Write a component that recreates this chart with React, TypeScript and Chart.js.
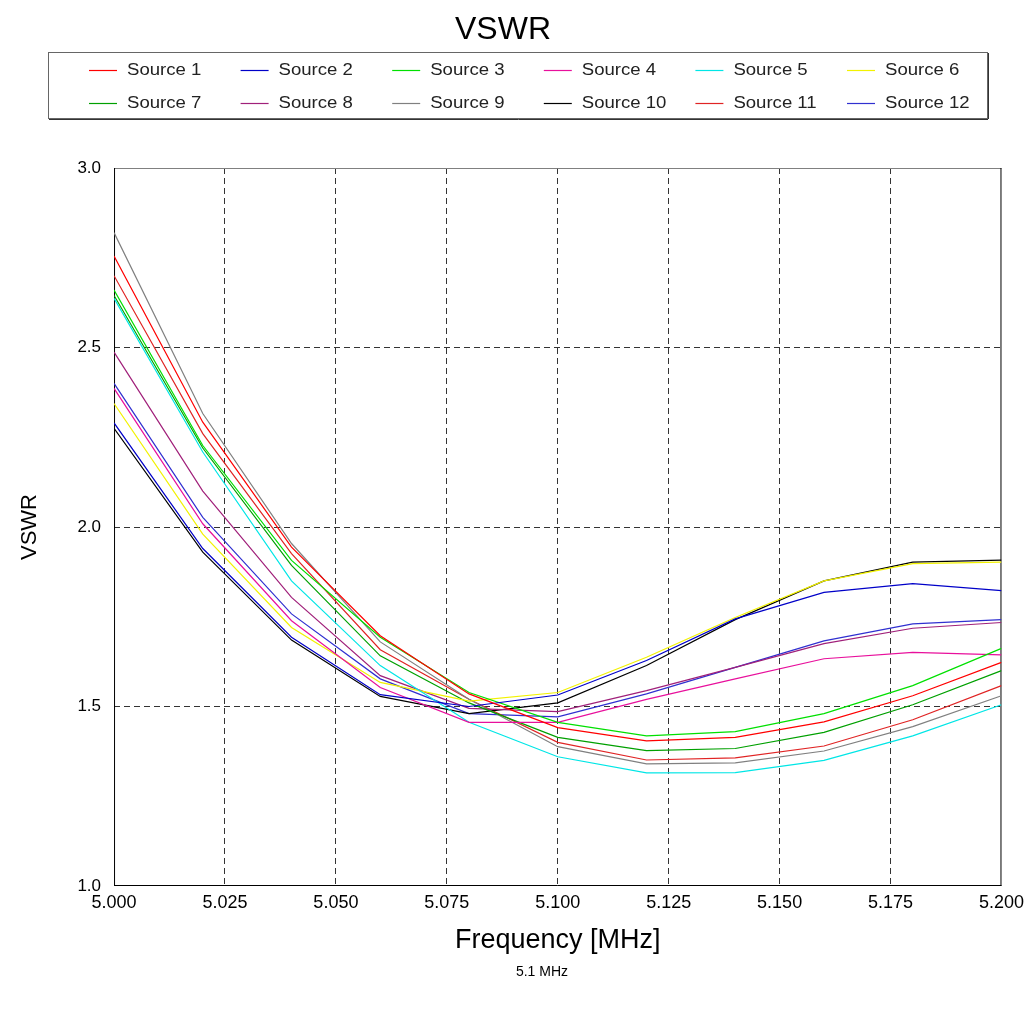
import React, { useEffect, useRef } from "react";
import { Chart, registerables } from "chart.js";

Chart.register(...registerables);

// ---- data ----
const frequencies = [5.0, 5.02, 5.04, 5.06, 5.08, 5.1, 5.12, 5.14, 5.16, 5.18, 5.2];

const source1 = [2.755, 2.292, 1.944, 1.697, 1.535, 1.441, 1.404, 1.414, 1.457, 1.53, 1.623];
const source2 = [2.29, 1.94, 1.693, 1.533, 1.5, 1.532, 1.628, 1.744, 1.818, 1.842, 1.823];
const source3 = [2.66, 2.227, 1.907, 1.693, 1.539, 1.456, 1.418, 1.43, 1.48, 1.558, 1.662];
const source4 = [2.386, 2.009, 1.739, 1.553, 1.456, 1.456, 1.52, 1.577, 1.633, 1.651, 1.644];
const source5 = [2.637, 2.209, 1.85, 1.614, 1.456, 1.36, 1.315, 1.316, 1.35, 1.418, 1.505];
const source6 = [2.344, 1.98, 1.72, 1.567, 1.515, 1.539, 1.637, 1.748, 1.85, 1.898, 1.902];
const source7 = [2.645, 2.22, 1.893, 1.641, 1.51, 1.414, 1.377, 1.383, 1.428, 1.505, 1.6];
const source8 = [2.487, 2.1, 1.804, 1.586, 1.495, 1.486, 1.544, 1.609, 1.675, 1.718, 1.734];
const source9 = [2.82, 2.316, 1.954, 1.68, 1.52, 1.388, 1.34, 1.343, 1.376, 1.444, 1.53];
const source10 = [2.275, 1.93, 1.685, 1.528, 1.48, 1.51, 1.614, 1.742, 1.85, 1.902, 1.908];
const source11 = [2.7, 2.26, 1.926, 1.658, 1.52, 1.4, 1.351, 1.357, 1.39, 1.463, 1.558];
const source12 = [2.4, 2.027, 1.758, 1.577, 1.48, 1.471, 1.535, 1.609, 1.683, 1.73, 1.742];

const seriesNames = [
  "Source 1", "Source 2", "Source 3", "Source 4", "Source 5", "Source 6",
  "Source 7", "Source 8", "Source 9", "Source 10", "Source 11", "Source 12",
];
const seriesValues = [
  source1, source2, source3, source4, source5, source6,
  source7, source8, source9, source10, source11, source12,
];
const seriesColors = [
  "#ff0000", "#0000c8", "#00e000", "#e8109c", "#00e6e6", "#f2f200",
  "#00a000", "#a0207a", "#808080", "#000000", "#e02424", "#3030d0",
];

const xTickValues = [5.0, 5.025, 5.05, 5.075, 5.1, 5.125, 5.15, 5.175, 5.2];
const yTickValues = [1.0, 1.5, 2.0, 2.5, 3.0];

const chartTitle = "VSWR";
const xAxisTitle = "Frequency [MHz]";
const yAxisTitle = "VSWR";
const footerText = "5.1 MHz";

const FONT = "'Liberation Sans', Arial, Helvetica, sans-serif";

const framePlugin = {
  id: "frame",
  beforeDatasetsDraw(chart: any) {
    const { ctx, chartArea } = chart;
    const { left, right, top, bottom } = chartArea;
    ctx.save();
    ctx.lineWidth = 1;
    ctx.strokeStyle = "#808080";
    ctx.beginPath();
    ctx.moveTo(left, top + 0.5);
    ctx.lineTo(right, top + 0.5);
    ctx.stroke();
    ctx.strokeStyle = "#000";
    ctx.beginPath();
    ctx.moveTo(left + 0.5, top);
    ctx.lineTo(left + 0.5, bottom);
    ctx.moveTo(right - 0.5, top);
    ctx.lineTo(right - 0.5, bottom);
    ctx.moveTo(left, bottom - 0.5);
    ctx.lineTo(right, bottom - 0.5);
    ctx.stroke();
    ctx.restore();
  },
};

const footerPlugin = {
  id: "footerText",
  afterDraw(chart: any) {
    const ctx = chart.ctx;
    ctx.save();
    ctx.font = `14px ${FONT}`;
    ctx.fillStyle = "#000";
    ctx.textAlign = "center";
    ctx.textBaseline = "middle";
    ctx.fillText(footerText, 542, 972);
    ctx.restore();
  },
};

const legendPlugin = {
  id: "gridLegend",
  afterDraw(chart: any) {
    const ctx = chart.ctx;
    const boxLeft = 48;
    const boxTop = 52;
    const boxW = 939;
    const boxH = 66;
    ctx.save();
    ctx.fillStyle = "#fff";
    ctx.fillRect(boxLeft, boxTop, boxW, boxH);
    ctx.strokeStyle = "#666";
    ctx.lineWidth = 1;
    ctx.strokeRect(boxLeft + 0.5, boxTop + 0.5, boxW, boxH);
    ctx.strokeStyle = "#333";
    ctx.beginPath();
    ctx.moveTo(boxLeft + 1, boxTop + boxH + 1.5);
    ctx.lineTo(boxLeft + boxW + 1, boxTop + boxH + 1.5);
    ctx.moveTo(boxLeft + boxW + 1.5, boxTop + 1);
    ctx.lineTo(boxLeft + boxW + 1.5, boxTop + boxH + 1);
    ctx.stroke();
    const colStep = 151.6;
    const rowYs = [70, 103];
    seriesNames.forEach((name, i) => {
      const col = i % 6;
      const row = Math.floor(i / 6);
      const x0 = 89 + col * colStep;
      const y = rowYs[row];
      ctx.strokeStyle = seriesColors[i];
      ctx.lineWidth = 1.2;
      ctx.beginPath();
      ctx.moveTo(x0, y + 0.5);
      ctx.lineTo(x0 + 28, y + 0.5);
      ctx.stroke();
      ctx.save();
      ctx.translate(x0 + 38, y + 1);
      ctx.scale(1.16, 1);
      ctx.font = `16px ${FONT}`;
      ctx.textBaseline = "middle";
      ctx.textAlign = "left";
      ctx.fillStyle = "#222";
      ctx.fillText(name, 0, 0);
      ctx.restore();
    });
    ctx.restore();
  },
};

export default function App() {
  const canvasRef = useRef<HTMLCanvasElement | null>(null);

  useEffect(() => {
    document.body.style.margin = "0";
    const canvas = canvasRef.current;
    if (!canvas) return;

    const datasets = seriesNames.map((name, i) => ({
      label: name,
      data: frequencies.map((f, j) => ({ x: f, y: seriesValues[i][j] })),
      borderColor: seriesColors[i],
      backgroundColor: seriesColors[i],
      borderWidth: 1.2,
      pointRadius: 0,
      tension: 0,
      fill: false,
    }));

    const edgeX = (v: number) => Math.abs(v - xTickValues[0]) < 1e-9 || Math.abs(v - xTickValues[xTickValues.length - 1]) < 1e-9;
    const edgeY = (v: number) => Math.abs(v - yTickValues[0]) < 1e-9 || Math.abs(v - yTickValues[yTickValues.length - 1]) < 1e-9;

    const chart = new Chart(canvas, {
      type: "line",
      data: { datasets },
      plugins: [framePlugin, legendPlugin, footerPlugin],
      options: {
        responsive: false,
        animation: false,
        devicePixelRatio: 1,
        layout: { padding: { left: 4, right: 28, top: 0, bottom: 44 } },
        plugins: {
          legend: { display: false },
          tooltip: { enabled: false },
          title: {
            display: true,
            text: chartTitle,
            color: "#000",
            font: { family: FONT, size: 32, weight: "normal" },
            padding: { top: 11, bottom: 118.6 },
          },
        },
        scales: {
          x: {
            type: "linear",
            min: xTickValues[0],
            max: xTickValues[xTickValues.length - 1],
            afterBuildTicks: (scale: any) => {
              scale.ticks = xTickValues.map((v) => ({ value: v }));
            },
            ticks: {
              autoSkip: false,
              maxRotation: 0,
              padding: 6,
              color: "#000",
              font: { family: FONT, size: 18 },
              callback: (v: any) => Number(v).toFixed(3),
            },
            grid: {
              drawTicks: false,
              lineWidth: 1,
              color: (c: any) => (c.tick && edgeX(c.tick.value) ? "rgba(0,0,0,0)" : "#333"),
            },
            border: { display: false, dash: [6, 4] },
            title: {
              display: true,
              text: xAxisTitle,
              color: "#000",
              font: { family: FONT, size: 27 },
              padding: { top: 5, bottom: 9 },
            },
          },
          y: {
            type: "linear",
            min: yTickValues[0],
            max: yTickValues[yTickValues.length - 1],
            afterBuildTicks: (scale: any) => {
              scale.ticks = yTickValues.map((v) => ({ value: v }));
            },
            ticks: {
              padding: 13,
              color: "#000",
              font: { family: FONT, size: 17 },
              callback: (v: any) => Number(v).toFixed(1),
            },
            grid: {
              drawTicks: false,
              lineWidth: 1,
              color: (c: any) => (c.tick && edgeY(c.tick.value) ? "rgba(0,0,0,0)" : "#333"),
            },
            border: { display: false, dash: [6, 4] },
            title: {
              display: true,
              text: yAxisTitle,
              color: "#000",
              font: { family: FONT, size: 22 },
              padding: { top: 13, bottom: 21 },
            },
          },
        },
      },
    } as any);

    return () => chart.destroy();
  }, []);

  return (
    <div style={{ width: 1030, height: 1010, background: "#fff" }}>
      <canvas ref={canvasRef} width={1030} height={1010} style={{ display: "block", width: 1030, height: 1010 }} />
    </div>
  );
}
